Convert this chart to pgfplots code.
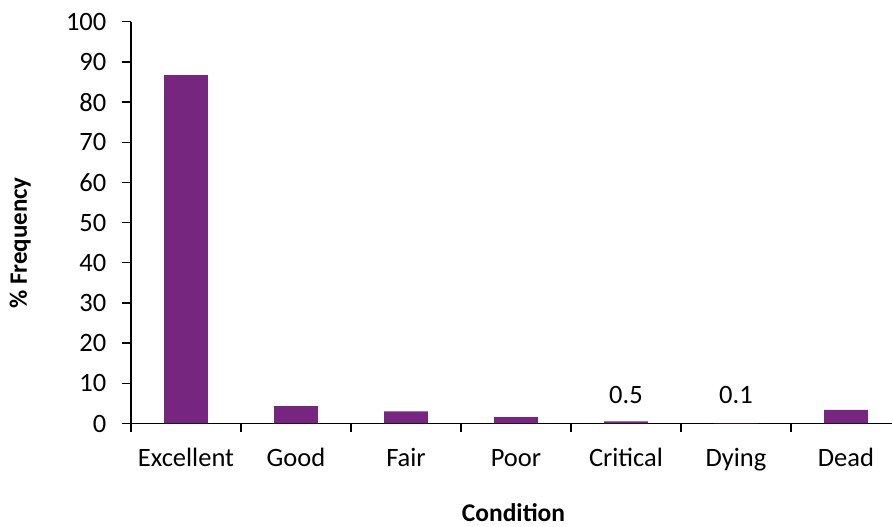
\documentclass[border=0pt]{standalone}
\usepackage{fontspec}
\setmainfont{Carlito}
\usepackage{pgfplots}
\pgfplotsset{compat=1.18}
\definecolor{barpurple}{RGB}{119,38,128}
\begin{document}
\begin{tikzpicture}[x=1pt,y=1pt]
\useasboundingbox (0,0) rectangle (892,527);
\begin{axis}[
  at={(131pt,103.5pt)}, anchor=south west,
  scale only axis, width=770pt, height=401.8pt,
  xmin=-0.5, xmax=6.5, ymin=0, ymax=100,
  axis x line*=bottom, axis y line*=left,
  axis line style={-, black, line width=1.3pt},
  tick align=outside, major tick length=8.5pt,
  tick style={black, line width=1.3pt},
  xtick={-0.5,0.5,1.5,2.5,3.5,4.5,5.5,6.5},
  xticklabels={Excellent,Good,Fair,Poor,Critical,Dying,Dead,{}},
  xticklabel style={anchor=base, inner sep=0pt, xshift=55pt, yshift=-35pt},
  ytick={0,10,...,100},
  yticklabel style={anchor=east, inner sep=0pt, xshift=-16pt},
  /pgf/number format/assume math mode=true,
  ticklabel style={font=\fontsize{26.5pt}{30pt}\selectfont},
  ybar, bar width=43.7pt,
  clip=false,
]
\addplot[fill=barpurple, draw=none] coordinates {
  (0,86.7) (1,4.3) (2,3.0) (3,1.6) (4,0.5) (5,0.1) (6,3.4)};
\node[anchor=base, font=\fontsize{26.5pt}{30pt}\selectfont] at (axis cs:4,5) {0.5};
\node[anchor=base, font=\fontsize{26.5pt}{30pt}\selectfont] at (axis cs:5,5) {0.1};
\end{axis}
\node[anchor=base west, inner sep=0pt, font=\fontsize{25.5pt}{30pt}\selectfont\bfseries] at (461.7,5) {Condition};
\node[anchor=base, rotate=90, inner sep=0pt, font=\fontsize{25pt}{30pt}\selectfont\bfseries] at (27,284) {\% Frequency};
\end{tikzpicture}
\end{document}
